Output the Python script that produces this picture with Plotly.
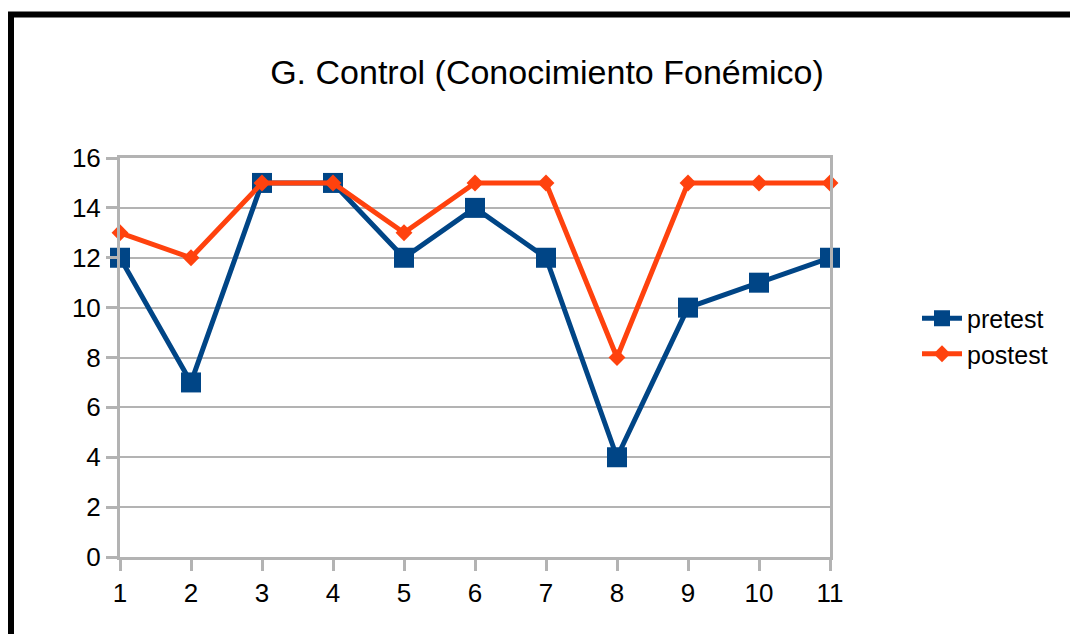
import plotly.graph_objects as go

students = [1, 2, 3, 4, 5, 6, 7, 8, 9, 10, 11]
pretest = [12, 7, 15, 15, 12, 14, 12, 4, 10, 11, 12]
postest = [13, 12, 15, 15, 13, 15, 15, 8, 15, 15, 15]
y_ticks = [0, 2, 4, 6, 8, 10, 12, 14, 16]

W, H = 1078, 634
OFF = 8  # default page body margin of the html page
L, R, T, B = 120 - OFF, 830 - OFF, 158 - OFF, 557 - OFF

def px(x):
    return (x - OFF - L) / (R - L)

def py(y):
    return (B - (y - OFF)) / (B - T)

fig = go.Figure()
fig.add_trace(go.Scatter(
    x=students, y=pretest, name="pretest", mode="lines+markers",
    line=dict(color="#004586", width=5),
    marker=dict(symbol="square", size=20, color="#004586"),
    cliponaxis=False,
))
fig.add_trace(go.Scatter(
    x=students, y=postest, name="postest", mode="lines+markers",
    line=dict(color="#ff420e", width=5),
    marker=dict(symbol="diamond", size=13, color="#ff420e"),
    cliponaxis=False,
))

axis_common = dict(
    gridcolor="#b3b3b3", gridwidth=2,
    showline=True, linecolor="#b3b3b3", linewidth=3, mirror=True,
    ticks="outside", ticklen=11, tickwidth=3, tickcolor="#b3b3b3",
    tickfont=dict(family="Liberation Sans", size=26, color="#000000"),
    zeroline=False,
)

fig.update_layout(
    width=W, height=H,
    margin=dict(l=L, r=W - R, t=T, b=H - B, autoexpand=False),
    paper_bgcolor="white", plot_bgcolor="white",
    title=dict(
        text="G. Control (Conocimiento Fonémico)",
        x=(547 - OFF) / W, xanchor="center", y=1 - (72 - OFF) / H, yanchor="middle",
        font=dict(family="Liberation Sans", size=34, color="#000000"),
    ),
    xaxis=dict(range=[1, 11], tickvals=students, ticktext=[str(s) for s in students],
               showgrid=False, **axis_common),
    yaxis=dict(range=[0, 16], tickvals=y_ticks, showgrid=True, **axis_common),
    legend=dict(
        x=px(917), xanchor="left", y=py(336), yanchor="middle",
        font=dict(family="Liberation Sans", size=25, color="#000000"),
        bgcolor="rgba(0,0,0,0)", itemwidth=40,
    ),
    showlegend=True,
    shapes=[
        dict(type="line", xref="paper", yref="paper",
             x0=px(8), x1=px(W + 5), y0=py(14.5), y1=py(14.5),
             line=dict(color="black", width=6)),
        dict(type="line", xref="paper", yref="paper",
             x0=px(11), x1=px(11), y0=py(12), y1=py(H + 5),
             line=dict(color="black", width=6)),
    ],
)

fig.write_html("out.html")
